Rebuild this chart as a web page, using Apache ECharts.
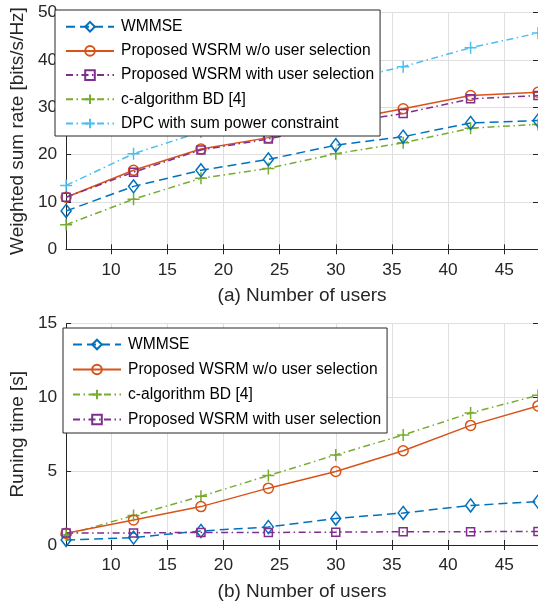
<!DOCTYPE html>
<html><head><meta charset="utf-8">
<script src="https://cdn.jsdelivr.net/npm/echarts@6/dist/echarts.min.js"></script>
<style>html,body{margin:0;padding:0;background:#fff}#c{width:538px;height:606px}</style>
</head><body><div id="c"></div>
<script>
// ---- data ----
const users = [6, 12, 18, 24, 30, 36, 42, 48];
const xTicks = [10, 15, 20, 25, 30, 35, 40, 45];

// (a) weighted sum rate [bits/s/Hz]
const rateWMMSE   = [8.1, 13.3, 16.7, 19.0, 22.0, 23.8, 26.7, 27.2];
const rateWoSel   = [11.0, 16.7, 21.2, 23.6, 27.0, 29.7, 32.5, 33.2];
const rateWithSel = [11.0, 16.3, 21.0, 23.3, 26.5, 28.7, 31.8, 32.5];
const rateBD      = [5.2, 10.6, 15.0, 17.1, 20.2, 22.5, 25.6, 26.4];
const rateDPC     = [13.5, 20.2, 24.8, 30.5, 35.3, 38.6, 42.6, 45.7];

// (b) running time [s]
const timeWMMSE   = [0.34, 0.5, 0.95, 1.22, 1.8, 2.17, 2.68, 2.94];
const timeWoSel   = [0.79, 1.7, 2.6, 3.85, 4.98, 6.38, 8.1, 9.42];
const timeBD      = [0.68, 2.0, 3.3, 4.7, 6.1, 7.45, 8.94, 10.14];
const timeWithSel = [0.82, 0.82, 0.85, 0.85, 0.87, 0.9, 0.9, 0.92];

const N_WMMSE = 'WMMSE';
const N_WOSEL = 'Proposed WSRM w/o user selection';
const N_WITH  = 'Proposed WSRM with user selection';
const N_BD    = 'c-algorithm BD [4]';
const N_DPC   = 'DPC with sum power constraint';

const legendTop = [N_WMMSE, N_WOSEL, N_WITH, N_BD, N_DPC];
const legendBottom = [N_WMMSE, N_WOSEL, N_BD, N_WITH];

// ---- styles ----
const FONT = '"Liberation Sans", Arial, Helvetica, sans-serif';
const AX = '#262626';
const GRIDC = '#dfdfdf';
const DASH = [9, 5];
const DASHDOT = [7, 3.5, 1.5, 3.5];
const PLUS = 'path://M0,5L10,5M5,0L5,10';
const STY = {};
STY[N_WMMSE] = {color: '#0072BD', type: DASH, symbol: 'diamond', size: [10, 13]};
STY[N_WOSEL] = {color: '#D95319', type: 'solid', symbol: 'circle', size: 10};
STY[N_WITH]  = {color: '#7E2F8E', type: DASHDOT, symbol: 'rect', size: 8};
STY[N_BD]    = {color: '#77AC30', type: DASHDOT, symbol: PLUS, size: 12};
STY[N_DPC]   = {color: '#4DBEEE', type: DASHDOT, symbol: PLUS, size: 12};

function mk(name, vals, gi) {
  const s = STY[name];
  return {
    type: 'line', name: name,
    xAxisIndex: gi * 2, yAxisIndex: gi * 2,
    data: users.map((u, i) => [u, vals[i]]),
    symbol: s.symbol, symbolSize: s.size, showSymbol: true,
    lineStyle: {color: s.color, width: 1.5, type: s.type},
    itemStyle: {color: 'rgba(0,0,0,0)', borderColor: s.color, borderWidth: 1.5},
    emphasis: {disabled: true},
    animation: false
  };
}

function xAxes(gi, title) {
  return [{
    type: 'value', gridIndex: gi, min: 6, max: 48, position: 'bottom',
    axisLine: {lineStyle: {color: AX, width: 1}},
    axisTick: {inside: true, length: 5, customValues: xTicks, lineStyle: {color: AX}},
    axisLabel: {customValues: xTicks, color: AX, fontSize: 17.3, fontFamily: FONT, margin: 12},
    splitLine: {show: true, lineStyle: {color: GRIDC, width: 1}},
    name: title, nameLocation: 'middle', nameGap: 37,
    nameTextStyle: {color: AX, fontSize: 19, fontFamily: FONT}
  }, {
    type: 'value', gridIndex: gi, min: 6, max: 48, position: 'top',
    axisLine: {lineStyle: {color: AX, width: 1}},
    axisTick: {inside: true, length: 5, customValues: xTicks, lineStyle: {color: AX}},
    axisLabel: {show: false},
    splitLine: {show: false}
  }];
}

function yAxes(gi, max, interval, title) {
  return [{
    type: 'value', gridIndex: gi, min: 0, max: max, interval: interval, position: 'left',
    axisLine: {show: true, lineStyle: {color: AX, width: 1}},
    axisTick: {show: true, inside: true, length: 5, lineStyle: {color: AX}},
    axisLabel: {color: AX, fontSize: 17.3, fontFamily: FONT, margin: 9},
    splitLine: {show: true, lineStyle: {color: GRIDC, width: 1}},
    name: title, nameLocation: 'middle', nameGap: 32,
    nameTextStyle: {color: AX, fontSize: 19, fontFamily: FONT}
  }, {
    type: 'value', gridIndex: gi, min: 0, max: max, interval: interval, position: 'right',
    axisLine: {show: true, lineStyle: {color: AX, width: 1}},
    axisTick: {show: true, inside: true, length: 5, lineStyle: {color: AX}},
    axisLabel: {show: false},
    splitLine: {show: false}
  }];
}

function legend(names, left, top, pad, gap) {
  return {
    data: names, orient: 'vertical', left: left, top: top,
    padding: pad, itemGap: gap, itemWidth: 48, itemHeight: 12,
    backgroundColor: '#ffffff', borderColor: AX, borderWidth: 1, borderRadius: 0,
    textStyle: {color: '#000', fontSize: 15.6, fontFamily: FONT, lineHeight: 16, padding: [0, 0, 0, 2]},
    selectedMode: false
  };
}

const chart = echarts.init(document.getElementById('c'), null, {renderer: 'canvas'});
chart.setOption({
  backgroundColor: '#ffffff',
  animation: false,
  textStyle: {fontFamily: FONT},
  grid: [
    {left: 63, top: 12.7, width: 476, height: 236.6},
    {left: 63, top: 323.5, width: 476, height: 221.5}
  ],
  xAxis: [].concat(xAxes(0, '(a) Number of users'), xAxes(1, '(b) Number of users')),
  yAxis: [].concat(yAxes(0, 50, 10, 'Weighted sum rate [bits/s/Hz]'), yAxes(1, 15, 5, 'Runing time [s]')),
  legend: [
    legend(legendTop, 55, 10, [8.7, 6, 4.5, 10], 8.2),
    legend(legendBottom, 63, 328, [8.5, 6, 5.5, 9], 9)
  ],
  series: [
    mk(N_DPC, rateDPC, 0),
    mk(N_BD, rateBD, 0),
    mk(N_WMMSE, rateWMMSE, 0),
    mk(N_WOSEL, rateWoSel, 0),
    mk(N_WITH, rateWithSel, 0),
    mk(N_WMMSE, timeWMMSE, 1),
    mk(N_BD, timeBD, 1),
    mk(N_WOSEL, timeWoSel, 1),
    mk(N_WITH, timeWithSel, 1)
  ]
});
</script>
</body></html>
